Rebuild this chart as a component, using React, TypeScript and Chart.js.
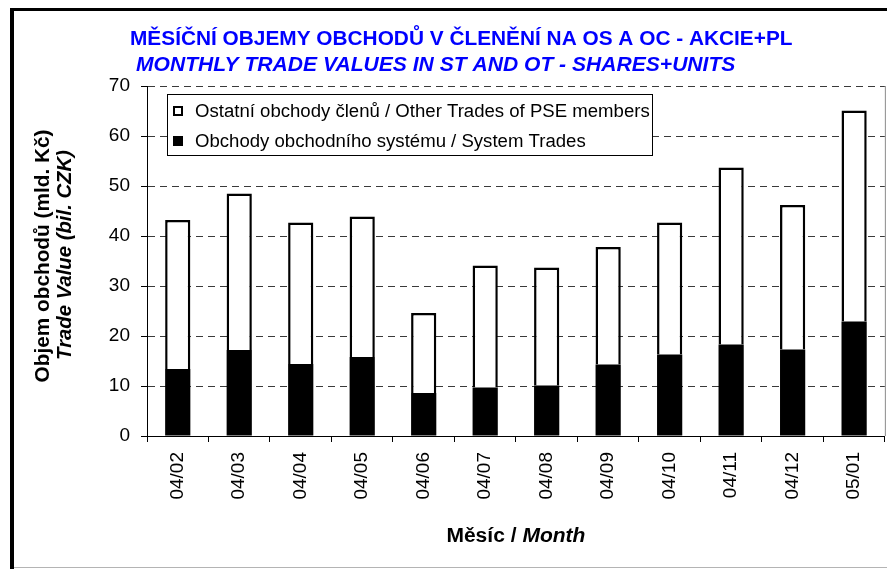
import React, { useEffect, useRef } from 'react';
import { Chart, registerables } from 'chart.js';

Chart.register(...registerables);

const months = ['04/02', '04/03', '04/04', '04/05', '04/06', '04/07', '04/08', '04/09', '04/10', '04/11', '04/12', '05/01'];
const systemTrades = [13.4, 17.2, 14.4, 15.8, 8.6, 9.7, 10.1, 14.3, 16.3, 18.3, 17.3, 22.9];
const otherTrades = [29.8, 31.3, 28.3, 28.1, 16.0, 24.4, 23.6, 23.5, 26.4, 35.4, 28.9, 42.2];
const yTickValues = [0, 10, 20, 30, 40, 50, 60, 70];

const titleLine1 = 'MĚSÍČNÍ OBJEMY OBCHODŮ V ČLENĚNÍ NA OS A OC - AKCIE+PL';
const titleLine2 = 'MONTHLY TRADE VALUES IN ST AND OT - SHARES+UNITS';
const yTitle1 = 'Objem obchodů (mld. Kč)';
const yTitle2 = 'Trade Value (bil. CZK)';
const xTitleA = 'Měsíc / ';
const xTitleB = 'Month';
const legendOther = 'Ostatní obchody členů / Other Trades of PSE members';
const legendSystem = 'Obchody obchodního systému / System Trades';

const FONT = '"Liberation Sans", Arial, sans-serif';

function fitSize(ctx: CanvasRenderingContext2D, style: string, text: string, target: number) {
  ctx.font = `${style} 100px ${FONT}`;
  const w = ctx.measureText(text).width;
  return (100 * target) / w;
}

const decor = {
  id: 'decor',
  beforeDraw(chart: any) {
    const { ctx, width, height } = chart;
    ctx.save();
    ctx.fillStyle = '#fff';
    ctx.fillRect(0, 0, width, height);
    ctx.restore();
  },
  afterDraw(chart: any) {
    const { ctx, chartArea } = chart;
    ctx.save();
    // outer frame
    ctx.fillStyle = '#000';
    ctx.fillRect(10, 8, 4, 561);
    ctx.fillRect(10, 8, 877, 3);
    ctx.fillStyle = '#b4b4b4';
    ctx.fillRect(14, 567, 873, 1);

    // right border of plot
    ctx.strokeStyle = '#8a8a8a';
    ctx.lineWidth = 1;
    ctx.beginPath();
    ctx.moveTo(chartArea.right + 0.5, chartArea.top);
    ctx.lineTo(chartArea.right + 0.5, chartArea.bottom);
    ctx.stroke();

    // titles
    ctx.fillStyle = '#0000ff';
    ctx.textAlign = 'left';
    ctx.textBaseline = 'alphabetic';
    let s = fitSize(ctx, 'bold', titleLine1, 663);
    ctx.font = `bold ${s}px ${FONT}`;
    ctx.fillText(titleLine1, 130, 45);
    s = fitSize(ctx, 'italic bold', titleLine2, 600);
    ctx.font = `italic bold ${s}px ${FONT}`;
    ctx.fillText(titleLine2, 136, 71);

    // y axis title
    ctx.fillStyle = '#000';
    ctx.save();
    ctx.translate(49, 256);
    ctx.rotate(-Math.PI / 2);
    s = fitSize(ctx, 'bold', yTitle1, 253);
    ctx.font = `bold ${s}px ${FONT}`;
    ctx.textAlign = 'center';
    ctx.fillText(yTitle1, 0, 0);
    ctx.restore();

    ctx.save();
    ctx.translate(71, 255);
    ctx.rotate(-Math.PI / 2);
    s = fitSize(ctx, 'italic bold', yTitle2, 210);
    ctx.font = `italic bold ${s}px ${FONT}`;
    ctx.textAlign = 'center';
    ctx.fillText(yTitle2, 0, 0);
    ctx.restore();

    // x axis title
    ctx.font = `bold 100px ${FONT}`;
    const wa = ctx.measureText(xTitleA).width;
    ctx.font = `italic bold 100px ${FONT}`;
    const wb = ctx.measureText(xTitleB).width;
    const xs = (100 * 139) / (wa + wb);
    const cx = (chartArea.left + chartArea.right) / 2;
    const startX = cx - ((wa + wb) * xs) / 200;
    ctx.textAlign = 'left';
    ctx.font = `bold ${xs}px ${FONT}`;
    ctx.fillText(xTitleA, startX, 542);
    ctx.font = `italic bold ${xs}px ${FONT}`;
    ctx.fillText(xTitleB, startX + (wa * xs) / 100, 542);

    // legend
    ctx.fillStyle = '#fff';
    ctx.fillRect(167, 94, 485, 61);
    ctx.strokeStyle = '#000';
    ctx.lineWidth = 1;
    ctx.strokeRect(167.5, 94.5, 485, 61);
    ctx.lineWidth = 2;
    ctx.strokeRect(174, 107, 8, 8);
    ctx.fillStyle = '#000';
    ctx.fillRect(173, 136, 10, 10);
    s = fitSize(ctx, '', legendOther, 455);
    ctx.font = `${s}px ${FONT}`;
    ctx.fillText(legendOther, 195, 117);
    ctx.fillText(legendSystem, 195, 147);
    ctx.restore();
  },
};

export default function App() {
  const ref = useRef<HTMLCanvasElement | null>(null);
  useEffect(() => {
    if (!ref.current) return;
    const chart = new Chart(ref.current, {
      type: 'bar',
      data: {
        labels: months,
        datasets: [
          {
            label: legendSystem,
            data: systemTrades,
            backgroundColor: '#000',
            borderColor: '#000',
            borderWidth: 0,
            categoryPercentage: 1,
            barPercentage: 0.41,
          },
          {
            label: legendOther,
            data: otherTrades,
            backgroundColor: '#fff',
            borderColor: '#000',
            borderWidth: 2.5,
            categoryPercentage: 1,
            barPercentage: 0.41,
          },
        ],
      },
      options: {
        responsive: false,
        animation: false,
        layout: { padding: { left: 0, top: 86, right: 2, bottom: 0 } },
        plugins: { legend: { display: false }, title: { display: false }, tooltip: { enabled: false } },
        scales: {
          x: {
            stacked: true,
            afterFit(scale: any) {
              scale.height = 133;
            },
            grid: {
              display: true,
              drawOnChartArea: false,
              offset: true,
              tickLength: 6,
              tickColor: '#000',
            },
            border: { display: true, color: '#000', width: 1 },
            ticks: {
              color: '#000',
              font: { family: FONT, size: 19 },
              minRotation: 90,
              maxRotation: 90,
              padding: 10,
              autoSkip: false,
            },
          },
          y: {
            stacked: true,
            min: 0,
            max: 70,
            afterFit(scale: any) {
              scale.width = 147;
            },
            afterBuildTicks(scale: any) {
              scale.ticks = yTickValues.map((v) => ({ value: v }));
            },
            grid: {
              color: (c: any) => (c.tick && c.tick.value === 0 ? 'rgba(0,0,0,0)' : '#3a3a3a'),
              lineWidth: 1,
              tickLength: 6,
              tickColor: '#000',
              tickBorderDash: [],
            },
            border: { display: true, color: '#000', width: 1, dash: [7, 5] },
            ticks: {
              color: '#000',
              font: { family: FONT, size: 19 },
              padding: 11,
            },
          },
        },
      },
      plugins: [decor],
    });
    return () => chart.destroy();
  }, []);
  return (
    <div style={{ position: 'absolute', left: 0, top: 0, width: 887, height: 569 }}>
      <canvas ref={ref} width={887} height={569} />
    </div>
  );
}
